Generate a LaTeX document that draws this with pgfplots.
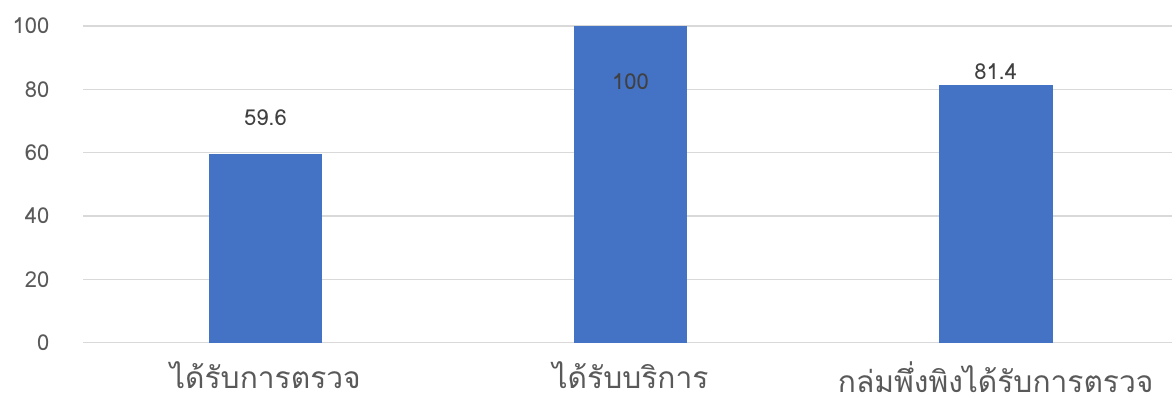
\documentclass[border=0pt]{standalone}
\usepackage{pgfplots}
\pgfplotsset{compat=1.18}
\usepackage{fontspec}
\setmainfont[Script=Thai]{Loma}
\definecolor{barblue}{HTML}{4472C4}
\definecolor{gridgray}{HTML}{D9D9D9}
\definecolor{ticktext}{HTML}{595959}
\definecolor{labeltext}{HTML}{404040}
\begin{document}
\begin{tikzpicture}
\begin{axis}[
  scale only axis,
  width=1091pt, height=317pt,
  xmin=-0.5, xmax=2.484, ymin=0, ymax=100,
  ybar, bar width=114pt, bar shift=0pt,
  xtick={0,1,2},
  xticklabels={ได้รับการตรวจ, ได้รับบริการ, กล่มพึ่งพิงได้รับการตรวจ},
  ytick={0,20,40,60,80,100},
  ymajorgrids,
  grid style={color=gridgray, line width=1.2pt},
  axis line style={draw=none},
  major tick length=0pt,
  clip=false,
  /pgf/number format/assume math mode=true,
  yticklabel style={font=\fontsize{22}{24}\selectfont, text=ticktext, xshift=-30pt},
  xticklabel style={font=\fontsize{30}{32}\selectfont, text=ticktext, anchor=north, yshift=-18pt, inner sep=1pt},
  every node near coord/.append style={font=\fontsize{22}{24}\selectfont, text=labeltext, anchor=center},
]
\addplot[fill=barblue, draw=none, nodes near coords, every node near coord/.append style={yshift=36pt}] coordinates {(0,59.6)};
\addplot[fill=barblue, draw=none, nodes near coords, every node near coord/.append style={yshift=-56pt}] coordinates {(1,100)};
\addplot[fill=barblue, draw=none, nodes near coords, every node near coord/.append style={yshift=13pt}] coordinates {(2,81.4)};
\end{axis}
\path ([xshift=-83pt,yshift=26pt]current axis.north west) rectangle ([yshift=-65pt]current axis.south east);
\end{tikzpicture}
\end{document}
